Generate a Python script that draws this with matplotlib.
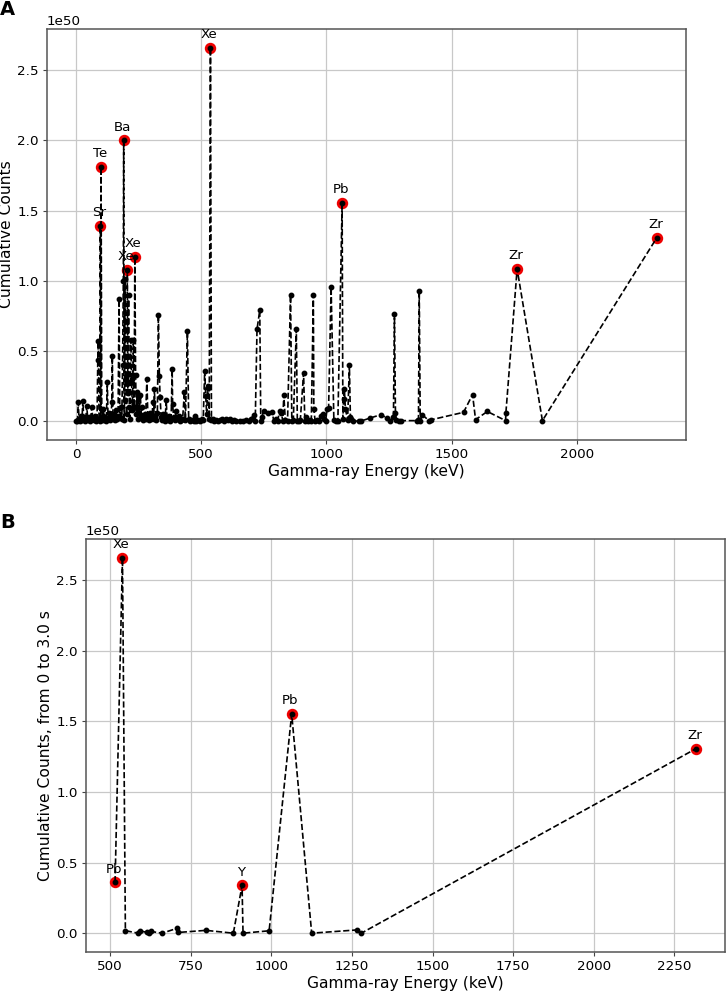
import numpy as np
import matplotlib
matplotlib.use("Agg")
import matplotlib.pyplot as plt

# values, counts in units of 1e50
energy_a = [0, 3, 6, 9, 12, 15, 20, 24, 27, 31, 35, 39, 43, 47, 52, 57, 63, 67, 72, 76,
            80, 84, 87, 89, 92, 95, 97, 99, 100, 103, 106, 109, 113, 117, 121, 125, 128,
            132, 136, 140, 143, 145, 148, 152, 156, 160, 164, 168, 172, 175, 179, 183,
            186, 189, 190.5, 192, 194, 196, 199, 202, 205, 207, 210, 213, 216, 219, 222,
            225, 229, 232, 235, 238, 241, 244, 247, 250, 253, 257, 261, 265, 269, 274,
            278, 283, 287, 291, 296, 300, 304, 307, 310, 313, 317, 321, 325, 329, 333,
            336, 340, 344, 348, 352, 356, 360, 364, 368, 372, 376, 380, 384, 386, 390,
            395, 400, 405, 410, 415, 420, 426, 433, 437, 445, 450, 456, 462, 470, 475,
            480, 488, 495, 502, 508, 514, 518, 522, 526, 529, 532, 537, 541, 546, 552,
            560, 568, 575, 582, 590, 598, 606, 614, 622, 630, 640, 655, 668, 680, 690,
            700, 709, 716, 723, 734, 738, 742, 749, 765, 783, 790, 797, 806, 813, 820,
            826, 830, 836, 845, 857, 862, 868, 880, 884, 890, 896, 909, 914, 920, 928,
            935, 940, 948, 950, 955, 962, 970, 978, 985, 990, 997, 1003, 1009, 1019,
            1030, 1040, 1046, 1063, 1066, 1069, 1072, 1076, 1085, 1092, 1096, 1100, 1105,
            1129, 1140, 1176, 1217, 1243, 1255, 1268, 1272, 1276, 1280, 1289, 1300, 1363,
            1368, 1371, 1375, 1384, 1410, 1416, 1548, 1584, 1596, 1643, 1716, 1717, 1762,
            1863, 2320]
counts_a = [0.0, 0.005, 0.01, 0.135, 0.02, 0.005, 0.04, 0.01, 0.146, 0.03, 0.005, 0.02, 0.11,
            0.01, 0.03, 0.005, 0.10, 0.02, 0.01, 0.04, 0.005, 0.02, 0.44, 0.57, 0.02, 0.005,
            1.39, 0.03, 1.81, 0.01, 0.04, 0.087, 0.01, 0.03, 0.005, 0.28, 0.02, 0.06, 0.01,
            0.03, 0.135, 0.466, 0.02, 0.05, 0.01, 0.08, 0.02, 0.04, 0.87, 0.03, 0.10, 0.02,
            0.40, 1.0, 2.0, 0.01, 0.15, 1.01, 0.30, 0.05, 1.08, 0.20, 0.90, 0.10, 0.02, 0.58,
            0.30, 0.08, 0.58, 0.10, 1.17, 0.33, 0.05, 0.21, 0.02, 0.18, 0.06, 0.19, 0.03,
            0.10, 0.01, 0.05, 0.02, 0.30, 0.04, 0.01, 0.06, 0.02, 0.03, 0.135, 0.02, 0.23,
            0.04, 0.01, 0.06, 0.76, 0.32, 0.17, 0.03, 0.01, 0.05, 0.02, 0.005, 0.15, 0.03,
            0.01, 0.04, 0.005, 0.02, 0.37, 0.12, 0.03, 0.01, 0.075, 0.02, 0.04, 0.005, 0.01,
            0.02, 0.21, 0.01, 0.64, 0.02, 0.005, 0.01, 0.005, 0.035, 0.005, 0.01, 0.005,
            0.02, 0.01, 0.36, 0.18, 0.05, 0.24, 0.25, 0.02, 2.66, 0.01, 0.02, 0.005, 0.01,
            0.005, 0.01, 0.02, 0.005, 0.015, 0.01, 0.02, 0.005, 0.01, 0.005, 0.0, 0.005,
            0.01, 0.005, 0.02, 0.045, 0.005, 0.655, 0.79, 0.005, 0.03, 0.07, 0.06, 0.064,
            0.005, 0.02, 0.005, 0.075, 0.06, 0.005, 0.19, 0.01, 0.005, 0.90, 0.005, 0.01,
            0.655, 0.005, 0.005, 0.01, 0.343, 0.005, 0.03, 0.005, 0.01, 0.005, 0.90, 0.087,
            0.005, 0.01, 0.005, 0.04, 0.05, 0.02, 0.005, 0.087, 0.095, 0.955, 0.01, 0.005,
            0.005, 1.555, 0.02, 0.16, 0.23, 0.09, 0.01, 0.40, 0.03, 0.02, 0.005, 0.0, 0.003,
            0.024, 0.047, 0.024, 0.005, 0.03, 0.761, 0.057, 0.01, 0.0, 0.005, 0.005, 0.01,
            0.927, 0.005, 0.045, 0.005, 0.01, 0.064, 0.19, 0.012, 0.07, 0.005, 0.057, 1.085,
            0.005, 1.307]

peak_labels_a = ["Sr", "Te", "Ba", "Xe", "Xe", "Xe", "Pb", "Zr", "Zr"]
peak_energy_a = [97, 100, 190.5, 205, 235, 537, 1063, 1762, 2320]
peak_counts_a = [1.39, 1.81, 2.0, 1.08, 1.17, 2.66, 1.555, 1.085, 1.307]

energy_b = [515, 538, 547, 586, 591, 614, 621, 627, 661, 708, 710, 797, 882, 909, 912,
            993, 1063, 1125, 1265, 1279, 2317]
counts_b = [0.361, 2.66, 0.018, 0.0, 0.018, 0.005, 0.003, 0.012, 0.0, 0.035, 0.005, 0.02,
            0.0, 0.338, 0.0, 0.017, 1.553, 0.0, 0.023, 0.0, 1.307]

peak_labels_b = ["Pb", "Xe", "Y", "Pb", "Zr"]
peak_energy_b = [515, 538, 909, 1063, 2317]
peak_counts_b = [0.361, 2.66, 0.338, 1.553, 1.307]

SCALE = 1e50

plt.rcParams['font.family'] = 'DejaVu Sans'
fig = plt.figure(figsize=(7.26, 9.91), dpi=100)
ax_a = fig.add_axes([0.0647, 0.556, 0.880, 0.4147])
ax_b = fig.add_axes([0.1185, 0.0394, 0.880, 0.4167])


def draw(ax, e, c, labels, pe, pc, ylabel):
    e = np.array(e)
    c = np.array(c) * SCALE
    pc = np.array(pc) * SCALE
    ax.plot(pe, pc, 'o', color='#ee0000', markersize=7.2, zorder=2)
    ax.plot(e, c, 'k--', marker='o', markersize=3.2, linewidth=1.2, zorder=3)
    for lab, x, y in zip(labels, pe, pc):
        ax.annotate(lab, (x, y), xytext=(-1, 4.8), textcoords='offset points',
                    ha='center', va='bottom', fontsize=9.6)
    ax.grid(True, color='#c8c8c8', linewidth=0.9)
    ax.set_axisbelow(True)
    ax.set_xlabel('Gamma-ray Energy (keV)', fontsize=11.2, labelpad=2)
    ax.set_ylabel(ylabel, fontsize=11.2, labelpad=2)
    ax.tick_params(labelsize=9.7, color='#444444', length=3, pad=3)
    ax.yaxis.get_offset_text().set_fontsize(9.7)
    for s in ax.spines.values():
        s.set_color('#555555')
        s.set_linewidth(1.1)


draw(ax_a, energy_a, counts_a, peak_labels_a, peak_energy_a, peak_counts_a, 'Cumulative Counts')
draw(ax_b, energy_b, counts_b, peak_labels_b, peak_energy_b, peak_counts_b,
     'Cumulative Counts, from 0 to 3.0 s')
ax_a.set_xticks([0, 500, 1000, 1500, 2000])
ax_b.set_xticks([500, 750, 1000, 1250, 1500, 1750, 2000, 2250])

fig.text(0.0, 1.0, 'A', fontsize=14, fontweight='bold', ha='left', va='top')
fig.text(0.0, 0.482, 'B', fontsize=14, fontweight='bold', ha='left', va='top')

fig.savefig('out.png', dpi=100)
